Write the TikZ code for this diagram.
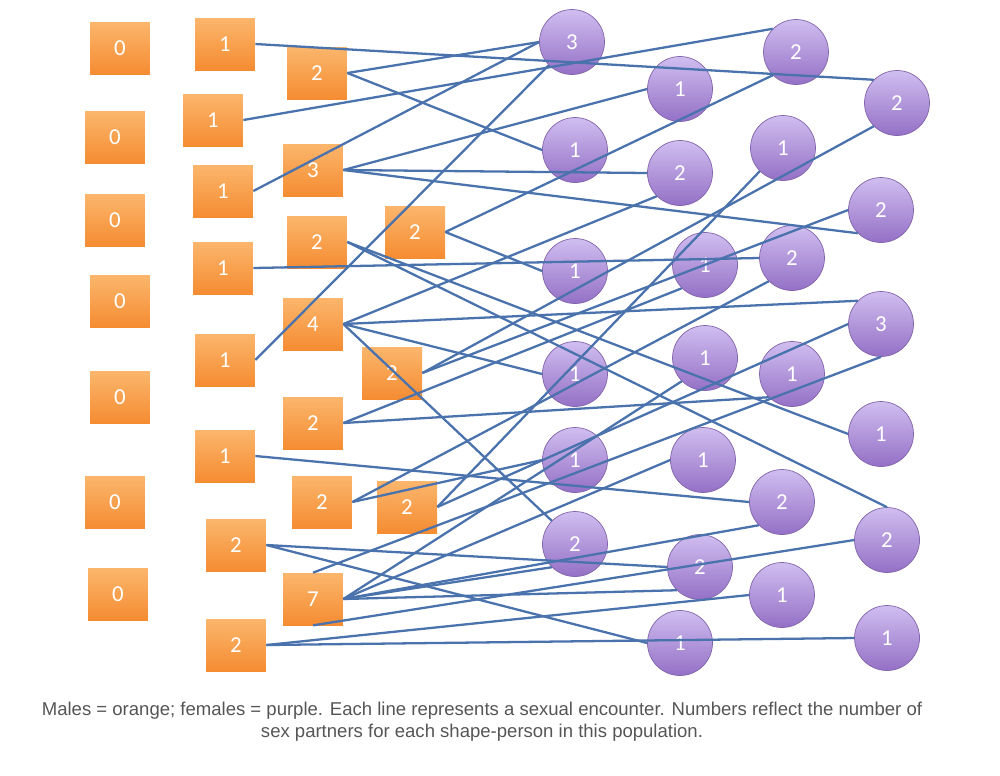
\documentclass[tikz,border=0pt]{standalone}
\usepackage{fontspec}
\setmainfont{Liberation Sans}
\newfontfamily\shapefont{Carlito}
\usetikzlibrary{calc}
\definecolor{pastelorange}{RGB}{251,182,108}
\definecolor{deeporange}{RGB}{245,140,50}
\definecolor{lightpurple}{RGB}{208,190,240}
\definecolor{deeppurple}{RGB}{148,112,198}
\definecolor{edgepurple}{RGB}{130,100,170}
\definecolor{linkblue}{RGB}{74,114,172}
\definecolor{captiongray}{RGB}{85,85,85}
\tikzstyle{male} = [rectangle, minimum width=1.2cm, minimum height=1.04cm, inner sep=0pt, top color=pastelorange, bottom color=deeporange, text=white, font=\shapefont\fontsize{13}{13}\selectfont]
\tikzstyle{female} = [circle, minimum size=1.3cm, inner sep=0pt, top color=lightpurple, bottom color=deeppurple, draw=edgepurple, thin, text=white, font=\shapefont\fontsize{13}{13}\selectfont]
\tikzstyle{link} = [draw=linkblue, line width=1.3pt]

\begin{document}
\begin{tikzpicture}[x=0.02cm,y=-0.02cm]
        \useasboundingbox (0,0) rectangle (1000,775);
        % Males without partners ------------------------------------------------------------
        \node[male](m0_1) at (120,48){0};
        \node[male](m0_2) at (115,137){0};
        \node[male](m0_3) at (115,220){0};
        \node[male](m0_4) at (120,301){0};
        \node[male](m0_5) at (120,397){0};
        \node[male](m0_6) at (115,502){0};
        \node[male](m0_7) at (118,594){0};
        % Males, first column
        \node[male](ma_1) at (225,44){1};
        \node[male](ma_2) at (213,120){1};
        \node[male](ma_3) at (223,191){1};
        \node[male](ma_4) at (223,268){1};
        \node[male](ma_5) at (225,360){1};
        \node[male](ma_6) at (225,456){1};
        \node[male](ma_7) at (236,545){2};
        \node[male](ma_8) at (236,645){2};
        % Males, second column
        \node[male](mb_1) at (317,73){2};
        \node[male](mb_2) at (313,170){3};
        \node[male](mb_3) at (317,242){2};
        \node[male](mb_4) at (313,324){4};
        \node[male](mb_5) at (313,423){2};
        \node[male](mb_6) at (322,502){2};
        \node[male](mb_7) at (313,599){7};
        % Males, third column
        \node[male](mc_1) at (415,232){2};
        \node[male](mc_2) at (392,373){2};
        \node[male](mc_3) at (407,507){2};
        % Females ---------------------------------------------------------------------------
        \node[female](fa_1) at (572,42){3};
        \node[female](fa_2) at (575,150){1};
        \node[female](fa_3) at (575,271){1};
        \node[female](fa_4) at (575,374){1};
        \node[female](fa_5) at (575,460){1};
        \node[female](fa_6) at (575,544){2};
        \node[female](fb_1) at (680,89){1};
        \node[female](fb_2) at (680,173){2};
        \node[female](fb_3) at (705,265){1};
        \node[female](fb_4) at (705,358){1};
        \node[female](fb_5) at (703,460){1};
        \node[female](fb_6) at (700,567){2};
        \node[female](fb_7) at (680,643){1};
        \node[female](fc_1) at (796,52){2};
        \node[female](fc_2) at (783,148){1};
        \node[female](fc_3) at (792,258){2};
        \node[female](fc_4) at (792,374){1};
        \node[female](fc_5) at (782,502){2};
        \node[female](fc_6) at (782,595){1};
        \node[female](fd_1) at (897,103){2};
        \node[female](fd_2) at (881,210){2};
        \node[female](fd_3) at (881,324){3};
        \node[female](fd_4) at (881,434){1};
        \node[female](fd_5) at (887,540){2};
        \node[female](fd_6) at (887,638){1};
        % Encounters ------------------------------------------------------------------------
        \draw[link] (ma_1.east) -- (fd_1.north west);
        \draw[link] (ma_2.east) -- (fc_1.north west);
        \draw[link] (ma_3.east) -- (fa_1.west);
        \draw[link] (ma_4.east) -- (fc_3.west);
        \draw[link] (ma_5.east) -- (fa_1.south west);
        \draw[link] (ma_6.east) -- (fc_5.west);
        \draw[link] (ma_7.east) -- (fb_6.west);
        \draw[link] (ma_7.east) -- (fb_7.west);
        \draw[link] (ma_8.east) -- (fd_6.west);
        \draw[link] (ma_8.east) -- (fc_6.west);
        \draw[link] (mb_1.east) -- (fa_1.west);
        \draw[link] (mb_1.east) -- (fa_2.west);
        \draw[link] (mb_2.east) -- (fb_1.west);
        \draw[link] (mb_2.east) -- (fb_2.west);
        \draw[link] (mb_2.east) -- (fd_2.south west);
        \draw[link] (mb_3.east) -- (fd_5.north);
        \draw[link] (mb_3.east) -- (fd_4.west);
        \draw[link] (mb_4.east) -- (fb_2.south west);
        \draw[link] (mb_4.east) -- (fd_3.north west);
        \draw[link] (mb_4.east) -- (fa_4.west);
        \draw[link] (mb_4.east) -- (fa_6.north west);
        \draw[link] (mb_5.east) -- (fb_3.south west);
        \draw[link] (mb_5.east) -- (fc_4.south west);
        \draw[link] (mb_6.east) -- (fc_3.south west);
        \draw[link] (mb_6.east) -- (fa_5.west);
        \draw[link] (mb_7.north) -- (fd_3.south);
        \draw[link] (mb_7.south) -- (fd_5.west);
        \draw[link] (mb_7.east) -- (fc_5.south west);
        \draw[link] (mb_7.east) -- (fa_6.south west);
        \draw[link] (mb_7.east) -- (fb_6.south west);
        \draw[link] (mb_7.east) -- (fb_5.west);
        \draw[link] (mb_7.east) -- (fb_4.south west);
        \draw[link] (mc_1.east) -- (fc_1.south west);
        \draw[link] (mc_1.east) -- (fa_3.west);
        \draw[link] (mc_2.east) -- (fd_1.south west);
        \draw[link] (mc_2.east) -- (fd_2.west);
        \draw[link] (mc_3.east) -- (fc_2.south west);
        \draw[link] (mc_3.east) -- (fd_3.west);
        % Caption ---------------------------------------------------------------------------
        \node[text=captiongray, align=center, font=\fontsize{10.55}{12.6}\selectfont](caption) at (482,722){Males = orange; females = purple. Each line represents a sexual encounter. Numbers reflect the number of\\sex partners for each shape-person in this population.};
\end{tikzpicture}
\end{document}
